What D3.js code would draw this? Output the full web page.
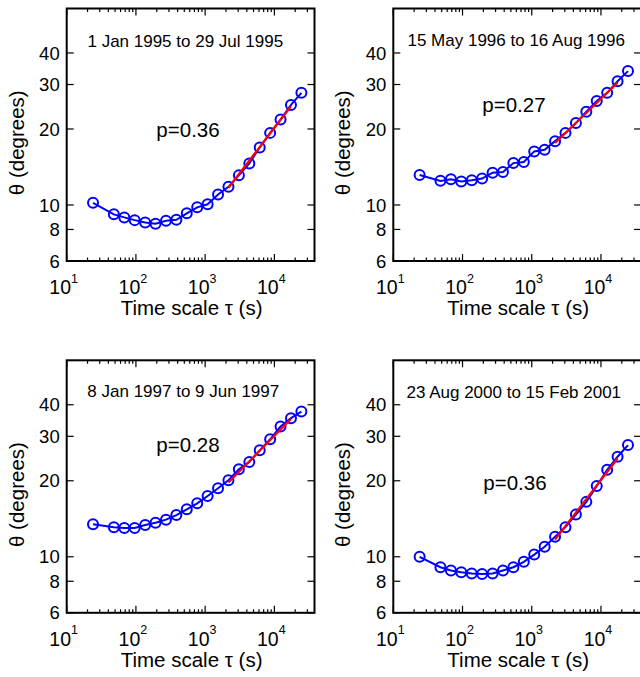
<!DOCTYPE html>
<html>
<head>
<meta charset="utf-8">
<script src="https://cdn.jsdelivr.net/npm/d3@7"></script>
<style>
  html, body { margin: 0; padding: 0; background: #fff; }
  svg { display: block; font-family: "Liberation Sans", Arial, Helvetica, sans-serif; }
</style>
</head>
<body>
<svg id="chart" width="640" height="677"></svg>
<script>
// ---------------- data ----------------
const tau = [24, 48, 68, 96, 136, 192, 272, 384, 543, 768, 1086, 1536, 2172, 3072, 4345, 6144, 8689, 12288, 17378, 24576];
const theta1 = [10.2, 9.18, 8.93, 8.71, 8.53, 8.43, 8.66, 8.74, 9.27, 9.79, 10.06, 11.0, 11.8, 13.1, 14.6, 16.9, 19.3, 21.8, 24.9, 27.8];
const theta2 = [13.15, 12.46, 12.65, 12.38, 12.53, 12.72, 13.43, 13.5, 14.65, 14.8, 16.3, 16.55, 17.9, 19.3, 21.1, 23.4, 25.8, 27.8, 30.9, 33.9];
const theta3 = [13.44, 13.1, 13.0, 13.0, 13.36, 13.65, 14.03, 14.63, 15.41, 16.28, 17.41, 18.67, 20.1, 22.2, 23.75, 26.4, 29.2, 32.8, 35.4, 37.6];
const theta4 = [10.0, 9.09, 8.83, 8.69, 8.59, 8.54, 8.59, 8.83, 9.09, 9.55, 10.2, 10.96, 12.0, 13.1, 14.7, 16.5, 19.07, 22.1, 24.9, 27.7];
const titles = ["1 Jan 1995 to 29 Jul 1995", "15 May 1996 to 16 Aug 1996", "8 Jan 1997 to 9 Jun 1997", "23 Aug 2000 to 15 Feb 2001"];
const pLabels = ["p=0.36", "p=0.27", "p=0.28", "p=0.36"];
const fitTau = [2172, 17378];
const fitStart = [11.7, 17.6, 19.7, 11.7];
const fitEnd = [24.6, 30.5, 35.1, 24.5];
const xDomain = [10, 38000];
const yDomain = [6, 60];
const xMajor = [10, 100, 1000, 10000];
const xExp = ["1", "2", "3", "4"];
const yTicks = [6, 8, 10, 20, 30, 40];
const xLabel = "Time scale \u03C4 (s)";
const yLabel = "\u03B8 (degrees)";

// ---------------- layout ----------------
const W = 247.8, H = 252.5;
const panels = [
  { left: 66.7, top: 8.5, theta: theta1, tOff: [118.6, 38.2], pOff: [121.3, 128.2] },
  { left: 393.3, top: 8.5, theta: theta2, tOff: [122.9, 37.5], pOff: [120.7, 103.2] },
  { left: 66.7, top: 360.3, theta: theta3, tOff: [116.6, 37.2], pOff: [121.3, 91.5] },
  { left: 393.3, top: 360.3, theta: theta4, tOff: [120.5, 38.0], pOff: [121.7, 129.8] }
];

const svg = d3.select("#chart");
svg.append("rect").attr("width", 640).attr("height", 677).attr("fill", "#fff");

// minor tick values
const xMinor = [];
for (let d = 10; d <= 10000; d *= 10) {
  for (let k = 2; k <= 9; k++) {
    const v = d * k;
    if (v < xDomain[1]) xMinor.push(v);
  }
}

panels.forEach((p, i) => {
  const x = d3.scaleLog().domain(xDomain).range([0, W]);
  const y = d3.scaleLog().domain(yDomain).range([H, 0]);
  const g = svg.append("g").attr("transform", `translate(${p.left},${p.top})`);

  // ticks (inward) bottom & top
  const tickG = g.append("g").attr("stroke", "#000").attr("stroke-width", 1.2);
  xMajor.forEach(v => {
    tickG.append("line").attr("x1", x(v)).attr("x2", x(v)).attr("y1", H).attr("y2", H - 7);
    tickG.append("line").attr("x1", x(v)).attr("x2", x(v)).attr("y1", 0).attr("y2", 7);
  });
  xMinor.forEach(v => {
    tickG.append("line").attr("x1", x(v)).attr("x2", x(v)).attr("y1", H).attr("y2", H - 3.5);
    tickG.append("line").attr("x1", x(v)).attr("x2", x(v)).attr("y1", 0).attr("y2", 3.5);
  });
  yTicks.forEach(v => {
    tickG.append("line").attr("x1", 0).attr("x2", 7).attr("y1", y(v)).attr("y2", y(v));
    tickG.append("line").attr("x1", W).attr("x2", W - 7).attr("y1", y(v)).attr("y2", y(v));
  });

  // y tick labels
  g.selectAll(".ylab").data(yTicks).enter().append("text")
    .attr("x", -7).attr("y", d => y(d)).attr("dy", "0.36em")
    .attr("text-anchor", "end").attr("font-size", 18.5).attr("fill", "#000")
    .text(d => d);

  // x tick labels with exponent
  xMajor.forEach((v, j) => {
    const t = g.append("text").attr("x", x(v) - 3).attr("y", H + 33)
      .attr("text-anchor", "middle").attr("font-size", 19.5).attr("fill", "#000");
    t.append("tspan").text("10");
    t.append("tspan").attr("font-size", 12.5).attr("dy", -11.5).text(xExp[j]);
  });

  // axis titles
  g.append("text").attr("x", W / 2 + 1).attr("y", H + 54)
    .attr("text-anchor", "middle").attr("font-size", 20.5).attr("fill", "#000").text(xLabel);
  g.append("text").attr("transform", `translate(-43,${H / 2 + 8}) rotate(-90)`)
    .attr("text-anchor", "middle").attr("font-size", 20.5).attr("fill", "#000").text(yLabel);

  // in-plot labels
  g.append("text").attr("x", p.tOff[0]).attr("y", p.tOff[1])
    .attr("text-anchor", "middle").attr("font-size", 17).attr("fill", "#000").text(titles[i]);
  g.append("text").attr("x", p.pOff[0]).attr("y", p.pOff[1])
    .attr("text-anchor", "middle").attr("font-size", 20.5).attr("fill", "#000").text(pLabels[i]);

  // data line and markers
  const pts = tau.map((t, k) => [t, p.theta[k]]);
  const line = d3.line().x(d => x(d[0])).y(d => y(d[1]));
  g.append("path").attr("d", line(pts)).attr("fill", "none")
    .attr("stroke", "#0000ff").attr("stroke-width", 2);
  g.selectAll(".mk").data(pts).enter().append("circle")
    .attr("cx", d => x(d[0])).attr("cy", d => y(d[1])).attr("r", 5)
    .attr("fill", "none").attr("stroke", "#0000ff").attr("stroke-width", 2);

  // red fit
  const fit = [[fitTau[0], fitStart[i]], [fitTau[1], fitEnd[i]]];
  g.append("path").attr("d", line(fit)).attr("fill", "none")
    .attr("stroke", "#ff0000").attr("stroke-width", 2.2);

  // frame
  g.append("rect").attr("x", 0).attr("y", 0).attr("width", W).attr("height", H)
    .attr("fill", "none").attr("stroke", "#000").attr("stroke-width", 2);
});
</script>
</body>
</html>
